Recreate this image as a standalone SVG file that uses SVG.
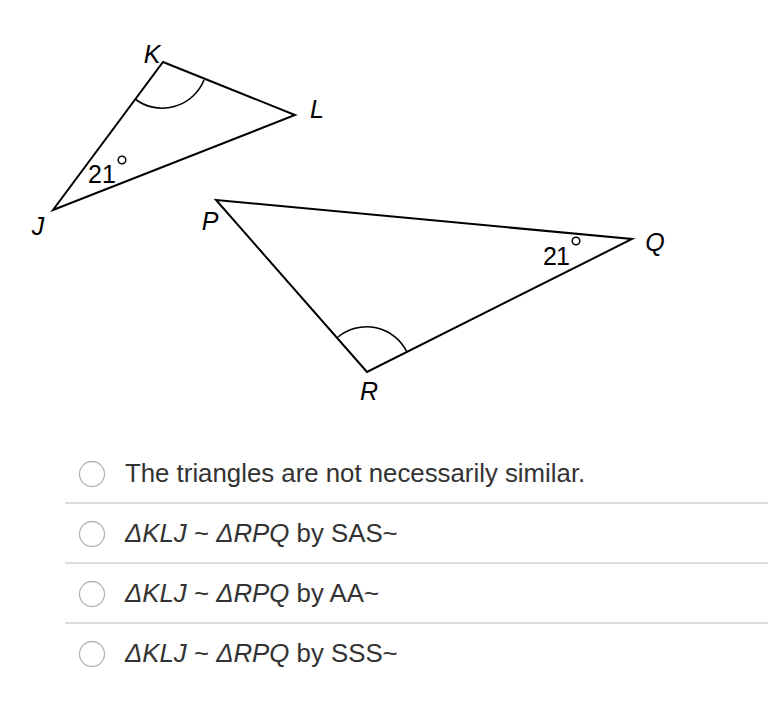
<svg xmlns="http://www.w3.org/2000/svg" width="768" height="704" viewBox="0 0 768 704">
<style>
.edge{fill:none;stroke:#000;stroke-width:2;stroke-linejoin:miter}
.arc{fill:none;stroke:#000;stroke-width:1.6}
.lbl{font-family:"Liberation Sans",Arial,sans-serif;font-size:25px;font-style:italic;fill:#000}
.ang{font-family:"Liberation Sans",Arial,sans-serif;font-size:25px;fill:#000}
.deg{fill:none;stroke:#000;stroke-width:1.5}
.opt{font-family:"Liberation Sans",Arial,sans-serif;font-size:25.8px;fill:#333}
.radio{fill:#fff;stroke:#b3b3b3;stroke-width:1.3}
.sep{stroke:#dddddd;stroke-width:2}
</style>
<rect width="768" height="704" fill="#fff"/>
<g id="triangle-KLJ">
<polygon class="edge" points="163,62 295,115 53,210"/>
<path class="arc" d="M135,99 A45,45 0 0 0 204,80"/>
<text class="lbl" x="152" y="63" text-anchor="middle">K</text>
<text class="lbl" x="317" y="118" text-anchor="middle">L</text>
<text class="lbl" x="38" y="235" text-anchor="middle">J</text>
<text class="ang" x="88" y="183" textLength="28">21</text>
<circle class="deg" cx="122" cy="160" r="3.8"/>
</g>
<g id="triangle-PQR">
<polygon class="edge" points="216,200 632,239 367,372"/>
<path class="arc" d="M338,337 A45,45 0 0 1 407,352"/>
<text class="lbl" x="210" y="230" text-anchor="middle">P</text>
<text class="lbl" x="655" y="251" text-anchor="middle">Q</text>
<text class="lbl" x="369" y="400" text-anchor="middle">R</text>
<text class="ang" x="543" y="265" textLength="27">21</text>
<circle class="deg" cx="576" cy="241" r="3.8"/>
</g>
<g id="options">
<circle class="radio" cx="92" cy="474" r="12.5"/>
<text class="opt" x="125" y="482">The triangles are not necessarily similar.</text>
<line class="sep" x1="65" y1="503" x2="768" y2="503"/>
<circle class="radio" cx="92" cy="534" r="12.5"/>
<text class="opt" x="125" y="542"><tspan font-style="italic">ΔKLJ</tspan> ~ <tspan font-style="italic">ΔRPQ</tspan> by SAS~</text>
<line class="sep" x1="65" y1="563" x2="768" y2="563"/>
<circle class="radio" cx="92" cy="594" r="12.5"/>
<text class="opt" x="125" y="602"><tspan font-style="italic">ΔKLJ</tspan> ~ <tspan font-style="italic">ΔRPQ</tspan> by AA~</text>
<line class="sep" x1="65" y1="623" x2="768" y2="623"/>
<circle class="radio" cx="92" cy="654" r="12.5"/>
<text class="opt" x="125" y="662"><tspan font-style="italic">ΔKLJ</tspan> ~ <tspan font-style="italic">ΔRPQ</tspan> by SSS~</text>
</g>
</svg>
